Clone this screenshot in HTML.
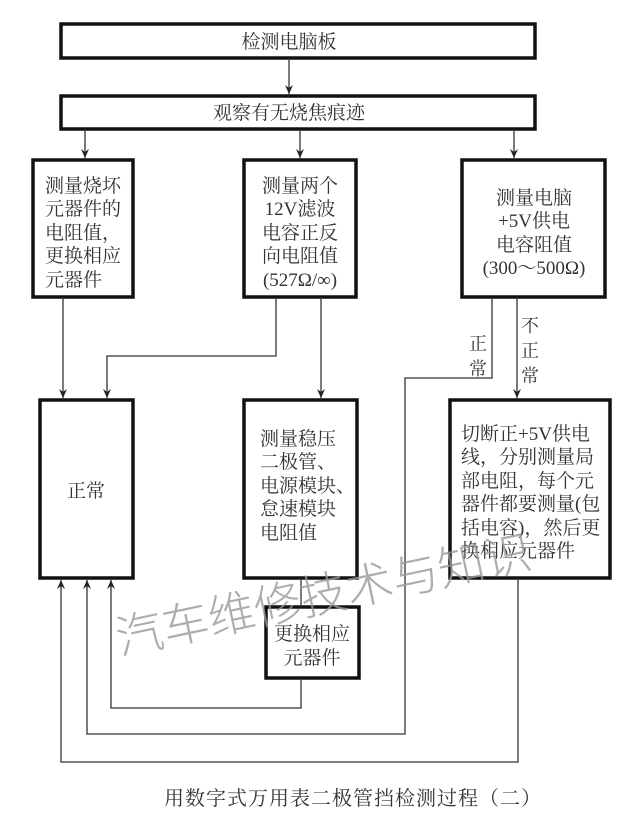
<!DOCTYPE html>
<html><head><meta charset="utf-8"><style>
body{margin:0;background:#fff;}
svg{display:block;}
text{font-family:"Liberation Serif","Noto Serif CJK SC",serif;fill:#333;font-size:19px;}
</style></head><body>
<svg width="640" height="825" viewBox="0 0 640 825">
<g fill="none" stroke="#111" stroke-width="3.5">
<rect x="61" y="24" width="474" height="34"/>
<rect x="61" y="96" width="474" height="33"/>
<rect x="33" y="160" width="100" height="137"/>
<rect x="244" y="160" width="112" height="137"/>
<rect x="462" y="160" width="143" height="137"/>
<rect x="40" y="400" width="93" height="178"/>
<rect x="244" y="400" width="113" height="178"/>
<rect x="450" y="400" width="160" height="178"/>
<rect x="266" y="607" width="93" height="71"/>
</g>
<g fill="none" stroke="#333" stroke-width="1.3">
<path d="M289 58V94"/>
<path d="M85 129V158"/>
<path d="M300 129V158"/>
<path d="M514 129V158"/>
<path d="M63 297V398"/>
<path d="M276 297V356H107V398"/>
<path d="M321 297V398"/>
<path d="M517 297V398"/>
<path d="M492 297V378H405V734H87V580"/>
<path d="M301 578V607"/>
<path d="M301 678V708H111V580"/>
<path d="M518 578V762H61V580"/>
</g>
<g fill="#222">
<path d="M285 85L289 94L293 85L289 88Z"/>
<path d="M81 149L85 158L89 149L85 152Z"/>
<path d="M296 149L300 158L304 149L300 152Z"/>
<path d="M510 149L514 158L518 149L514 152Z"/>
<path d="M59 389L63 398L67 389L63 392Z"/>
<path d="M103 389L107 398L111 389L107 392Z"/>
<path d="M317 389L321 398L325 389L321 392Z"/>
<path d="M513 389L517 398L521 389L517 392Z"/>
<path d="M83 589L87 580L91 589L87 586Z"/>
<path d="M107 589L111 580L115 589L111 586Z"/>
<path d="M57 589L61 580L65 589L61 586Z"/>
</g>
<text x="289" y="48" text-anchor="middle" font-size="18">检测电脑板</text>
<text x="289" y="119" text-anchor="middle">观察有无烧焦痕迹</text>
<g>
<text x="45" y="192">测量烧坏</text><text x="45" y="215">元器件的</text><text x="45" y="239">电阻值，</text><text x="45" y="262">更换相应</text><text x="45" y="286">元器件</text>
</g>
<g text-anchor="middle">
<text x="300" y="192">测量两个</text><text x="300" y="215">12V滤波</text><text x="300" y="239">电容正反</text><text x="300" y="262">向电阻值</text><text x="300" y="286">(527Ω/∞)</text>
<text x="534" y="204">测量电脑</text><text x="534" y="227">+5V供电</text><text x="534" y="251">电容阻值</text><text x="534" y="274">(300～500Ω)</text>
<text x="86" y="497">正常</text>
<text x="312" y="640">更换相应</text><text x="312" y="664">元器件</text>
</g>
<g>
<text x="260" y="445">测量稳压</text><text x="260" y="468">二极管、</text><text x="260" y="492">电源模块、</text><text x="260" y="515">怠速模块</text><text x="260" y="539">电阻值</text>
<text x="461" y="440">切断正+5V供电</text><text x="461" y="463">线，分别测量局</text><text x="461" y="487">部电阻，每个元</text><text x="461" y="510">器件都要测量(包</text><text x="461" y="534">括电容)，然后更</text><text x="461" y="557">换相应元器件</text>
</g>
<g>
<text x="469" y="350" style="font-size:18px">正</text><text x="469" y="375" style="font-size:18px">常</text>
<text x="521" y="332" style="font-size:18px">不</text><text x="521" y="357" style="font-size:18px">正</text><text x="521" y="382" style="font-size:18px">常</text>
</g>
<text x="120" y="655" transform="rotate(-12 120 655)" style="font-size:47px;fill:#999;fill-opacity:0.8;font-family:'Noto Sans CJK SC',sans-serif;font-weight:300">汽车维修技术与知识</text>
<text x="164" y="805" style="font-size:20px;letter-spacing:1px">用数字式万用表二极管挡检测过程（二）</text>
</svg>
</body></html>
